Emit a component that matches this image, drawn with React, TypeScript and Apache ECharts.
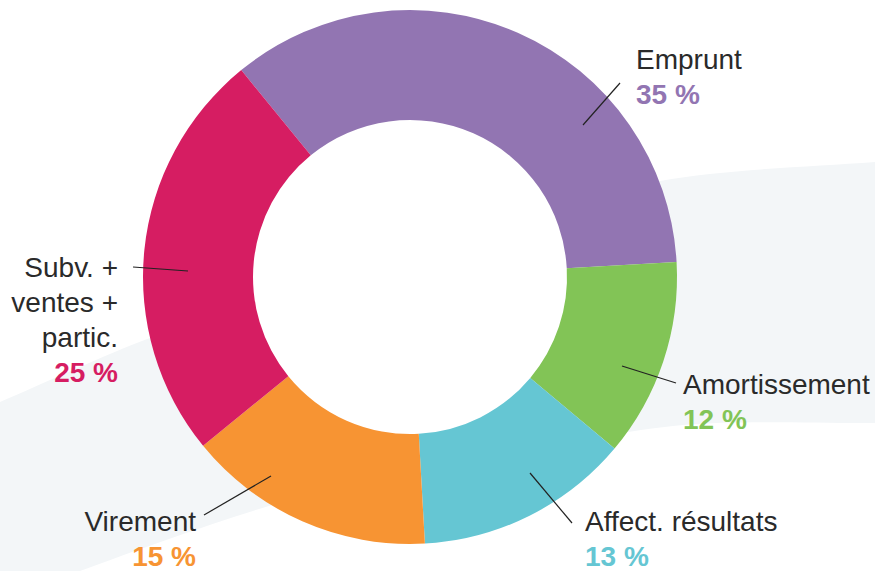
import React, { useEffect, useRef } from "react";
import * as echarts from "echarts";

const categories = ["Emprunt", "Amortissement", "Affect. résultats", "Virement", "Subv. +\nventes +\npartic."];
const values = [35, 12, 13, 15, 25];
const colors = ["#9275b2", "#82c456", "#65c6d3", "#f79433", "#d61d62"];

// label anchors (layout only): [x, top, align]
const labelAnchors: [number, number, string][] = [
  [636, 42, "left"],
  [683, 367, "left"],
  [585, 504, "left"],
  [196, 504, "right"],
  [118, 250, "right"],
];
// leader lines (layout only): [x1, y1, x2, y2]
const leaders: number[][] = [
  [583, 125, 620, 83],
  [622, 366, 676, 383],
  [530, 473, 572, 523],
  [271, 476, 204, 515],
  [188, 271, 133, 267],
];

export default function App() {
  const ref = useRef<HTMLDivElement>(null);
  useEffect(() => {
    if (!ref.current) return;
    const chart = echarts.init(ref.current, undefined, { renderer: "svg" });
    const font = "'Liberation Sans', Arial, Helvetica, sans-serif";
    const rich: any = {};
    colors.forEach((c, i) => {
      rich["n" + i] = {
        fontSize: 28,
        color: "#2a2a2a",
        lineHeight: 35,
        fontFamily: font,
        align: labelAnchors[i][2],
      };
      rich["p" + i] = {
        fontSize: 28,
        fontWeight: "bold",
        color: c,
        lineHeight: 35,
        fontFamily: font,
        align: labelAnchors[i][2],
      };
    });
    const center = [410, 277];
    const radius = [157, 267];
    const leaderLines = leaders.map((l) => ({
      type: "line",
      z: 100,
      silent: true,
      shape: { x1: l[0], y1: l[1], x2: l[2], y2: l[3] },
      style: { stroke: "#222222", lineWidth: 1.2 },
    }));
    chart.setOption({
      animation: false,
      backgroundColor: "#ffffff",
      graphic: [
        {
          type: "polygon",
          z: -10,
          silent: true,
          shape: {
            smooth: 0.3,
            points: [
              [-60, 428],
              [0, 402],
              [150, 338],
              [420, 245],
              [660, 181],
              [875, 162],
              [940, 160],
              [940, 423],
              [875, 423],
              [683, 425],
              [500, 456],
              [300, 497],
              [80, 571],
              [20, 600],
              [-60, 600],
            ],
          },
          style: { fill: "#f3f6f8" },
        },
        {
          type: "circle",
          z: -5,
          silent: true,
          shape: { cx: center[0], cy: center[1], r: radius[0] + 1 },
          style: { fill: "#ffffff" },
        },
        ...leaderLines,
      ],
      series: [
        {
          type: "pie",
          center,
          radius,
          startAngle: 129.2,
          clockwise: true,
          avoidLabelOverlap: false,
          emphasis: { disabled: true },
          itemStyle: { borderWidth: 0 },
          label: {
            show: true,
            position: "outside",
            formatter: (p: any) =>
              `{n${p.dataIndex}|${p.name}}\n{p${p.dataIndex}|${p.value} %}`,
            rich,
          },
          labelLine: { show: false },
          labelLayout: (params: any) => {
            const a = labelAnchors[params.dataIndex];
            return { x: a[0], y: a[1], align: a[2], verticalAlign: "top" };
          },
          data: categories.map((c, i) => ({
            name: c,
            value: values[i],
            itemStyle: { color: colors[i] },
          })),
        },
      ],
    });
    return () => chart.dispose();
  }, []);
  return (
    <div
      ref={ref}
      style={{ position: "fixed", left: 0, top: 0, width: 875, height: 571 }}
    />
  );
}
